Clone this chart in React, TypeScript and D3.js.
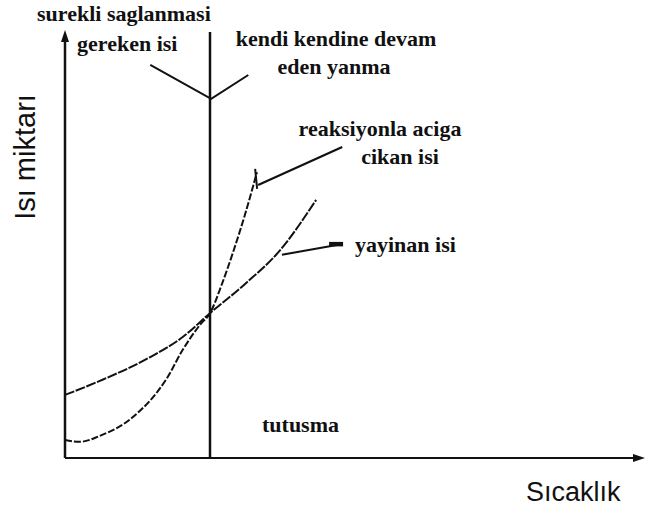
import React from "react";
import * as d3 from "d3";

// temperature (0-100) vs heat amount (0-100)
const heatGenT = [0, 2.6, 6.0, 11.7, 17.6, 20.3, 23.3, 25.0, 27.1, 29.0, 31.0, 33.1];
const heatGenQ = [4.2, 3.8, 5.2, 9.6, 18.8, 25.4, 31.3, 34.0, 41.0, 48.4, 57.0, 67.1];
const heatLossT = [0, 6.0, 14.7, 20.3, 25.0, 31.0, 37.1, 43.3];
const heatLossQ = [14.8, 18.1, 23.7, 28.4, 34.0, 40.8, 48.8, 60.6];
const ignitionT = 25;

// annotation pointers
const vMarkT = [14.7, 25.2, 31.6];
const vMarkQ = [92.3, 84.3, 89.9];
const genLeaderT = [33.3, 47.8];
const genLeaderQ = [64.1, 73.0];
const lossLeaderT = [37.4, 47.6];
const lossLeaderQ = [47.7, 50.2];

const topLeftLabel = ["surekli saglanmasi", "gereken isi"];
const topRightLabel = ["kendi kendine devam", "eden yanma"];
const genLabel = ["reaksiyonla aciga", "cikan isi"];
const lossLabel = "yayinan isi";
const ignitionLabel = "tutusma";
const xTitle = "Sıcaklık";
const yTitle = "Isı miktarı";

const width = 650;
const height = 512;
const marginLeft = 65;
const marginRight = 5;
const marginTop = 32;
const marginBottom = 54;

const zip = (a: number[], b: number[]) => a.map((v, i) => [v, b[i]] as [number, number]);

const App = () => {
  const x = d3.scaleLinear().domain([0, 100]).range([marginLeft, width - marginRight]);
  const y = d3.scaleLinear().domain([0, 100]).range([height - marginBottom, marginTop]);

  const curve = d3
    .line<[number, number]>()
    .x((d) => x(d[0]))
    .y((d) => y(d[1]))
    .curve(d3.curveMonotoneX);
  const straight = d3
    .line<[number, number]>()
    .x((d) => x(d[0]))
    .y((d) => y(d[1]));

  const serif: React.CSSProperties = {
    fontFamily: "Liberation Serif, Times New Roman, Times, DejaVu Serif, Noto Serif, serif",
    fontWeight: "bold",
    fontSize: "22px",
    fill: "#111",
  };
  const sans: React.CSSProperties = {
    fontFamily: "Liberation Sans, Arial, sans-serif",
    fontSize: "27px",
    fill: "#111",
  };

  const x0 = x(0);
  const y0 = y(0);
  const yTop = y(100);
  const xEnd = x(100);

  return (
    <svg width={width} height={height} style={{ position: "absolute", left: 0, top: 0, background: "#fff" }}>
      {/* axes */}
      <line x1={x0} y1={y0} x2={x0} y2={yTop + 6} stroke="#111" strokeWidth={2.5} />
      <path d={`M${x0 - 4},${yTop + 10}L${x0},${yTop - 2}L${x0 + 4},${yTop + 10}Z`} fill="#111" />
      <line x1={x0} y1={y0} x2={xEnd - 8} y2={y0} stroke="#111" strokeWidth={2} />
      <path d={`M${xEnd - 12},${y0 - 4}L${xEnd},${y0}L${xEnd - 12},${y0 + 4}Z`} fill="#111" />

      {/* ignition line */}
      <line x1={x(ignitionT)} y1={y0} x2={x(ignitionT)} y2={yTop} stroke="#111" strokeWidth={2.5} />

      {/* heat lost */}
      <path d={curve(zip(heatLossT, heatLossQ)) || ""} fill="none" stroke="#111" strokeWidth={2} strokeDasharray="10,1.5" />
      {/* heat generated */}
      <path d={curve(zip(heatGenT, heatGenQ)) || ""} fill="none" stroke="#111" strokeWidth={2} strokeDasharray="7,2" />

      {/* pointers */}
      <path d={straight(zip(vMarkT, vMarkQ)) || ""} fill="none" stroke="#111" strokeWidth={2} />
      <path d={straight(zip(genLeaderT, genLeaderQ)) || ""} fill="none" stroke="#111" strokeWidth={2.2} />
      <line x1={x(genLeaderT[0]) - 1} y1={y(genLeaderQ[0]) + 4} x2={x(genLeaderT[0]) - 3} y2={y(genLeaderQ[0]) - 16} stroke="#111" strokeWidth={2} />
      <path d={straight(zip(lossLeaderT, lossLeaderQ)) || ""} fill="none" stroke="#111" strokeWidth={2} />
      <line x1={x(lossLeaderT[1]) - 12} y1={y(lossLeaderQ[1])} x2={x(lossLeaderT[1]) + 2} y2={y(lossLeaderQ[1])} stroke="#111" strokeWidth={4.5} />

      {/* labels */}
      <text x={37} y={21} style={serif}>{topLeftLabel[0]}</text>
      <text x={77} y={51} style={serif}>{topLeftLabel[1]}</text>
      <text x={336} y={46} textAnchor="middle" style={serif}>{topRightLabel[0]}</text>
      <text x={334} y={74} textAnchor="middle" style={serif}>{topRightLabel[1]}</text>
      <text x={380} y={136} textAnchor="middle" style={serif}>{genLabel[0]}</text>
      <text x={400} y={164} textAnchor="middle" style={serif}>{genLabel[1]}</text>
      <text x={355} y={252} style={serif}>{lossLabel}</text>
      <text x={262} y={432} style={serif}>{ignitionLabel}</text>
      <text x={526} y={501} style={sans}>{xTitle}</text>
      <text transform="translate(35,157) rotate(-90)" textAnchor="middle" style={{ ...sans, fontSize: "29px" }}>{yTitle}</text>
    </svg>
  );
};

export default App;
